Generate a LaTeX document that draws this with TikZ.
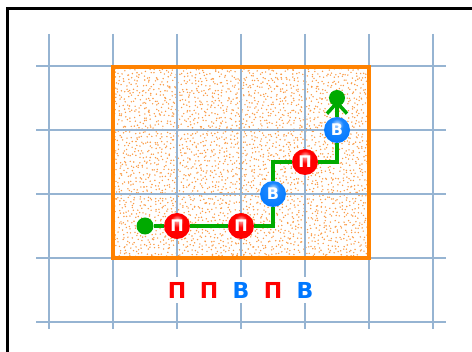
\documentclass[tikz,border=0pt]{standalone}
\usepackage{fontspec}
\setmainfont{DejaVu Sans}
\usetikzlibrary{arrows.meta}
\definecolor{gridc}{RGB}{150,180,210}
\definecolor{boxc}{RGB}{255,130,0}
\definecolor{dotc}{RGB}{250,155,70}
\definecolor{pathc}{RGB}{0,170,0}
\definecolor{redl}{RGB}{255,0,0}
\definecolor{bluel}{RGB}{0,120,255}
\pgfdeclareradialshading{redball}{\pgfpoint{0bp}{12bp}}{color(0bp)=(red!25!white); color(12bp)=(red); color(32bp)=(red); color(44bp)=(red!75!black); color(60bp)=(red!55!black)}
\pgfdeclareradialshading{blueball}{\pgfpoint{0bp}{12bp}}{color(0bp)=(bluel!25!white); color(12bp)=(bluel!90!white); color(32bp)=(bluel); color(44bp)=(bluel!75!black); color(60bp)=(bluel!55!black)}
\tikzset{
  gridline/.style={draw=gridc,line width=1.4pt},
  ballnode/.style={circle,minimum size=26pt,inner sep=0pt,text=white,font=\bfseries\fontsize{16}{16}\selectfont},
  pball/.style={ballnode,shading=redball},
  bball/.style={ballnode,shading=blueball},
  dotnode/.style={circle,fill=pathc,minimum size=17pt,inner sep=0pt},
  enddot/.style={circle,fill=pathc,minimum size=16pt,inner sep=0pt},
  pathline/.style={draw=pathc,line width=3.5pt},
  lbl/.style={fill=white,inner sep=5pt,font=\bfseries\fontsize{22}{22}\selectfont},
}
\begin{document}
\begin{tikzpicture}[x=1pt,y=-1pt]
\useasboundingbox (0,0) rectangle (472,352);
\clip (0,0) rectangle (472,352);
% frame
\draw[line width=3pt] (7,360) -- (7,9) -- (480,9);
% dotted fill
\pgfmathsetseed{7}
\begin{scope}
\clip (113,67) rectangle (369,258);
\foreach \i in {0,...,63}{
  \foreach \j in {0,...,47}{
    \pgfmathsetmacro{\px}{115+\i*4+rand*2}
    \pgfmathsetmacro{\py}{69+\j*4+rand*2}
    \fill[dotc] (\px,\py) circle (0.8);
  }
}
\end{scope}
% grid
\foreach \x in {49,113,177,241,305,369,433} \draw[gridline] (\x,34) -- (\x,329);
\foreach \y in {66,130,194,258,322} \draw[gridline] (36,\y) -- (446,\y);
% box border
\draw[draw=boxc,line width=4pt] (113,67) rectangle (369,258);
% labels
\node[lbl,text=redl] (l1) at (177,290) {П};
\node[lbl,text=redl] (l2) at (209,290) {П};
\node[lbl,text=bluel] (l3) at (241,290) {В};
\node[lbl,text=redl] (l4) at (273,290) {П};
\node[lbl,text=bluel] (l5) at (305,290) {В};
% path nodes
\node[dotnode] (s) at (145,226) {};
\node[enddot] (e) at (337,98) {};
\node[pball] (p1) at (177,226) {П};
\node[pball] (p2) at (241,226) {П};
\node[bball] (b1) at (273,194) {В};
\node[pball] (p3) at (305,162) {П};
\node[bball] (b2) at (337,130) {В};
\draw[pathline] (s) -- (p1);
\draw[pathline] (p1) -- (p2);
\draw[pathline] (p2) -| (b1);
\draw[pathline] (b1) |- (p3);
\draw[pathline] (p3) -| (b2);
\draw[pathline,-{Straight Barb[length=11pt,width=20pt,line width=3.5pt]}] (b2) -- ([yshift=-2]e.center);
\end{tikzpicture}
\end{document}
